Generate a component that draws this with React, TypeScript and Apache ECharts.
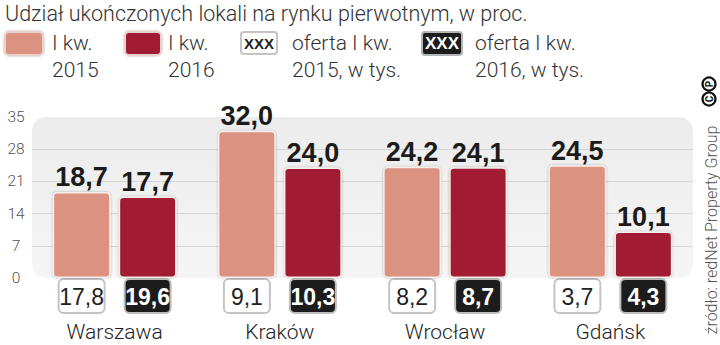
import React, { useEffect, useRef } from 'react';
import * as echarts from 'echarts';

const titleText = 'Udział ukończonych lokali na rynku pierwotnym, w proc.';
const sourceText = 'źródło: redNet Property Group';
const cities = ['Warszawa', 'Kraków', 'Wrocław', 'Gdańsk'];
const share2015 = [18.7, 32.0, 24.2, 24.5];
const share2016 = [17.7, 24.0, 24.1, 10.1];
const offer2015 = [17.8, 9.1, 8.2, 3.7];
const offer2016 = [19.6, 10.3, 8.7, 4.3];
const yMin = 0;
const yMax = 35;
const yInterval = 7;
const seriesNames = ['I kw. 2015', 'I kw. 2016'];
const legendLabels = ['I kw.\n2015', 'I kw.\n2016'];
const offerLabels = ['oferta I kw.\n2015, w tys.', 'oferta I kw.\n2016, w tys.'];
const boxSample = 'XXX';

const LIGHT = '#db9280';
const DARK = '#a11b33';
const NARROW = '"Liberation Sans Narrow", "Arial Narrow", sans-serif';
const SANS = 'Roboto, "Noto Sans", sans-serif';

const fmt = (v: number) => v.toFixed(1).replace('.', ',');

export default function App() {
  const ref = useRef<HTMLDivElement>(null);
  useEffect(() => {
    if (!ref.current) return;
    const chart = echarts.init(ref.current, null, { renderer: 'svg' });
    const barLabel = {
      show: true,
      position: 'top',
      distance: 1,
      formatter: (p: any) => fmt(p.value),
      fontFamily: NARROW,
      fontWeight: 'bold',
      fontSize: 27,
      color: '#1b1b1b',
    };
    const barItem = (color: string) => ({
      color,
      borderRadius: 4,
      borderColor: '#f6eeec',
      borderWidth: 1.5,
      shadowColor: 'rgba(0,0,0,0.3)',
      shadowBlur: 2,
    });
    const legendText = (text: string, x: number) => ({
      type: 'text',
      x,
      y: 29,
      style: {
        text,
        fill: '#333',
        fontFamily: SANS,
        fontWeight: 300,
        fontSize: 21,
        lineHeight: 27,
        align: 'left',
        verticalAlign: 'top',
      },
    });
    const option: any = {
      animation: false,
      backgroundColor: '#fff',
      grid: { left: 32, right: 27, top: 117, bottom: 67 },
      xAxis: {
        type: 'category',
        data: cities,
        axisLine: { show: false },
        axisTick: { show: false },
        axisLabel: {
          interval: 0,
          margin: 5,
          fontWeight: 'normal',
          formatter: (value: string, idx: number) =>
            `{w|${fmt(offer2015[idx])}}{sp|\u00a0}{b|${fmt(offer2016[idx])}}\n{c|${value}}`,
          rich: {
            w: {
              fontFamily: NARROW,
              fontSize: 23,
              fontWeight: 'normal',
              color: '#222',
              backgroundColor: '#fff',
              borderColor: '#c4c4c4',
              borderWidth: 2,
              borderRadius: 4,
              width: 40,
              align: 'center',
              lineHeight: 26,
              padding: [5, 2, 4, 2],
            },
            b: {
              fontFamily: NARROW,
              fontSize: 23,
              fontWeight: 'bold',
              color: '#fff',
              backgroundColor: '#1c1c1c',
              borderColor: '#bdbdbd',
              borderWidth: 2,
              borderRadius: 4,
              width: 40,
              align: 'center',
              lineHeight: 26,
              padding: [5, 2, 4, 2],
            },
            sp: { width: 22, fontSize: 10 },
            c: {
              fontFamily: SANS,
              fontSize: 21,
              fontWeight: 300,
              color: '#1e1e1e',
              lineHeight: 46,
              align: 'center',
            },
          },
        },
      },
      yAxis: {
        type: 'value',
        min: yMin,
        max: yMax,
        interval: yInterval,
        axisLine: { show: false },
        axisTick: { show: false },
        axisLabel: {
          margin: 16,
          align: 'center',
          fontFamily: SANS,
          fontWeight: 300,
          fontSize: 15.5,
          color: '#555',
        },
        splitLine: {
          lineStyle: {
            color: ['rgba(0,0,0,0)', '#d6d6d6', '#d6d6d6', '#d6d6d6', '#d6d6d6', 'rgba(0,0,0,0)'],
            width: 1,
          },
        },
      },
      series: [
        {
          name: seriesNames[0],
          type: 'bar',
          data: share2015,
          barGap: '14%',
          barCategoryGap: '25%',
          itemStyle: barItem(LIGHT),
          label: barLabel,
        },
        {
          name: seriesNames[1],
          type: 'bar',
          data: share2016,
          barGap: '14%',
          barCategoryGap: '25%',
          itemStyle: barItem(DARK),
          label: barLabel,
        },
      ],
      graphic: [
        {
          type: 'rect',
          z: -10,
          shape: { x: 32, y: 117, width: 661, height: 161, r: 14 },
          style: {
            fill: new echarts.graphic.LinearGradient(0, 0, 0, 1, [
              { offset: 0, color: '#ececec' },
              { offset: 1, color: '#f5f5f5' },
            ]),
          },
        },
        {
          type: 'text',
          x: 5,
          y: 13,
          style: {
            text: titleText,
            fill: '#333',
            fontFamily: SANS,
            fontWeight: 300,
            fontSize: 21.5,
            align: 'left',
            verticalAlign: 'middle',
          },
        },
        {
          type: 'rect',
          shape: { x: 5, y: 32, width: 38, height: 23, r: 4 },
          style: { fill: LIGHT, stroke: '#e8d2cc', lineWidth: 2, shadowBlur: 2, shadowColor: 'rgba(0,0,0,0.3)' },
        },
        legendText(legendLabels[0], 52),
        {
          type: 'rect',
          shape: { x: 125, y: 32, width: 36, height: 23, r: 4 },
          style: { fill: DARK, stroke: '#e8d2cc', lineWidth: 2, shadowBlur: 2, shadowColor: 'rgba(0,0,0,0.3)' },
        },
        legendText(legendLabels[1], 168),
        {
          type: 'rect',
          shape: { x: 241, y: 32, width: 36, height: 22, r: 3 },
          style: { fill: '#fff', stroke: '#c4c4c4', lineWidth: 2 },
        },
        {
          type: 'text',
          x: 259,
          y: 43.5,
          style: {
            text: boxSample,
            fill: '#222',
            fontFamily: NARROW,
            fontWeight: 'bold',
            fontSize: 15,
            align: 'center',
            verticalAlign: 'middle',
          },
        },
        legendText(offerLabels[0], 292),
        {
          type: 'rect',
          shape: { x: 422, y: 32, width: 40, height: 23, r: 3 },
          style: { fill: '#1c1c1c', stroke: '#b5b5b5', lineWidth: 2 },
        },
        {
          type: 'text',
          x: 442,
          y: 43.5,
          style: {
            text: boxSample,
            fill: '#fff',
            fontFamily: NARROW,
            fontWeight: 'bold',
            fontSize: 17,
            align: 'center',
            verticalAlign: 'middle',
          },
        },
        legendText(offerLabels[1], 475),
        {
          type: 'text',
          x: 711,
          y: 230,
          rotation: Math.PI / 2,
          style: {
            text: sourceText,
            fill: '#555',
            fontFamily: SANS,
            fontWeight: 300,
            fontSize: 16,
            align: 'center',
            verticalAlign: 'middle',
          },
        },
        {
          type: 'circle',
          shape: { cx: 709, cy: 99, r: 6.5 },
          style: { fill: 'none', stroke: '#111', lineWidth: 2.2 },
        },
        {
          type: 'text',
          x: 709,
          y: 99,
          rotation: Math.PI / 2,
          style: {
            text: 'C',
            fill: '#111',
            fontFamily: SANS,
            fontWeight: 'bold',
            fontSize: 10,
            align: 'center',
            verticalAlign: 'middle',
          },
        },
        {
          type: 'circle',
          shape: { cx: 709, cy: 84, r: 6.5 },
          style: { fill: 'none', stroke: '#111', lineWidth: 2.2 },
        },
        {
          type: 'text',
          x: 709,
          y: 84,
          rotation: Math.PI / 2,
          style: {
            text: 'P',
            fill: '#111',
            fontFamily: SANS,
            fontWeight: 'bold',
            fontSize: 10,
            align: 'center',
            verticalAlign: 'middle',
          },
        },
      ],
    };
    chart.setOption(option);
    return () => chart.dispose();
  }, []);
  return (
    <div
      ref={ref}
      style={{ position: 'fixed', left: 0, top: 0, width: 720, height: 345 }}
    />
  );
}
